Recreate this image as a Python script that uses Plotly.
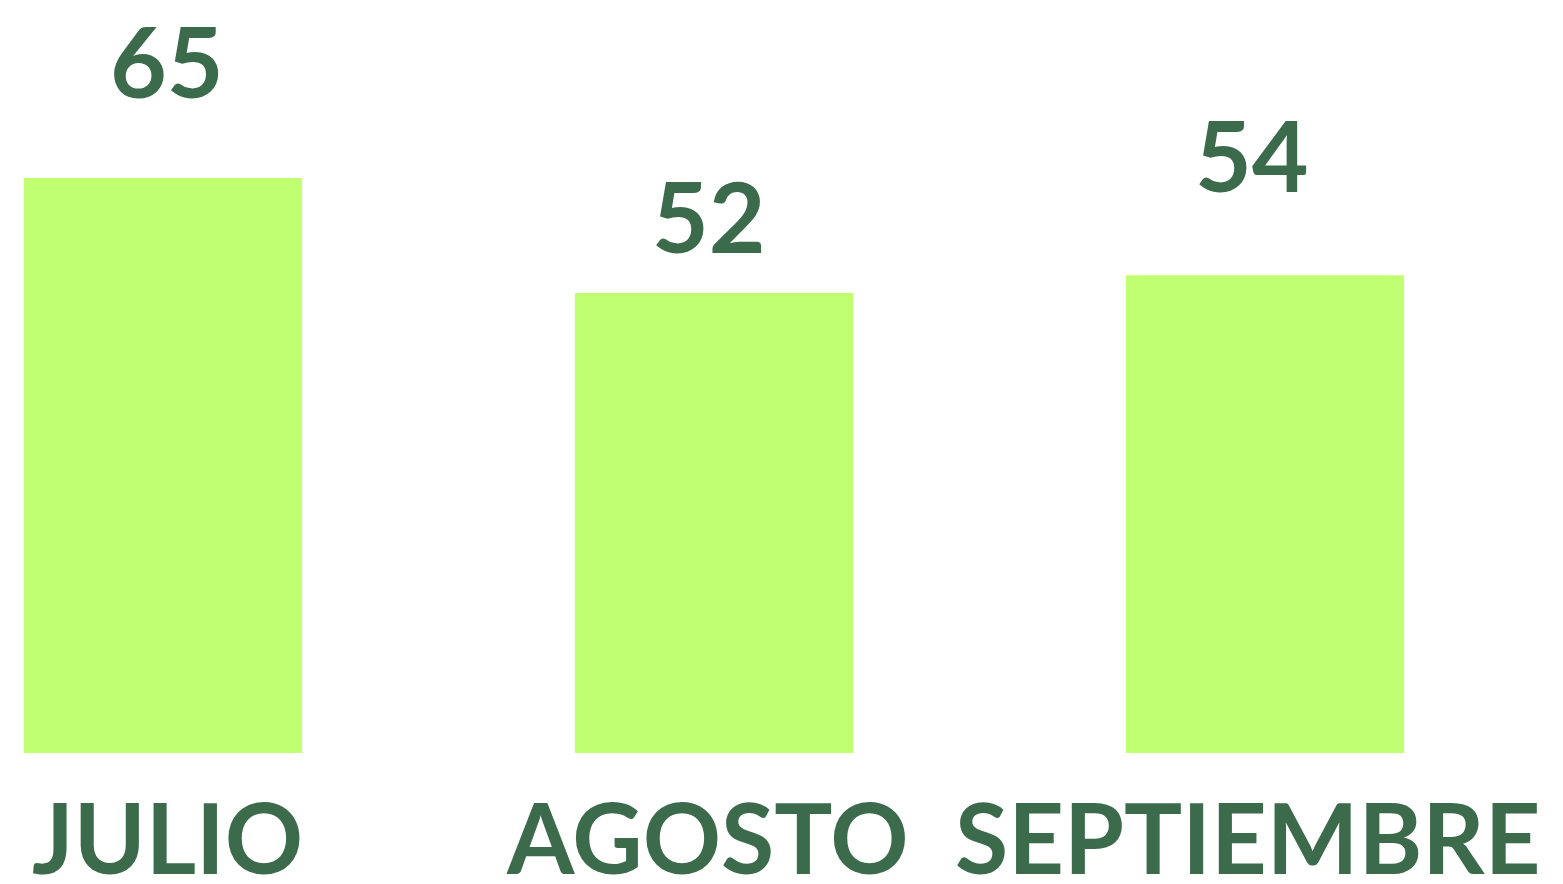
import plotly.graph_objects as go

months = ["JULIO", "AGOSTO", "SEPTIEMBRE"]
values = [65, 52, 54]

GREEN = "#3b6b4a"
BAR = "#c1ff72"
FONT = "Lato"

fig = go.Figure(
    go.Bar(
        x=list(range(len(months))),
        y=values,
        marker={"color": BAR, "line": {"width": 0}},
        width=0.505,
        hoverinfo="skip",
    )
)

# nudges (px) so labels sit where the original design put them
value_dy = [57, 17, 60]
value_dx = [4, -5, -13]
month_dx = [4, -7, -18]
for i, v in enumerate(values):
    fig.add_annotation(
        x=i, y=v, text=str(v), showarrow=False,
        yanchor="bottom", yshift=value_dy[i], xshift=value_dx[i],
        font={"family": FONT, "size": 98, "color": GREEN, "weight": 700},
    )
    fig.add_annotation(
        x=i, y=0, yref="paper", text=months[i], showarrow=False,
        yanchor="top", yshift=-23, xshift=month_dx[i],
        font={"family": FONT, "size": 97, "color": GREEN, "weight": 700},
    )

fig.update_layout(
    width=1547, height=868,
    margin=dict(l=0, r=0, t=0, b=123),
    plot_bgcolor="white", paper_bgcolor="white",
    showlegend=False,
    xaxis={"range": [-0.2813, 2.5263], "visible": False},
    yaxis={"range": [0, 84.22], "visible": False},
)

fig.write_html("out.html")
